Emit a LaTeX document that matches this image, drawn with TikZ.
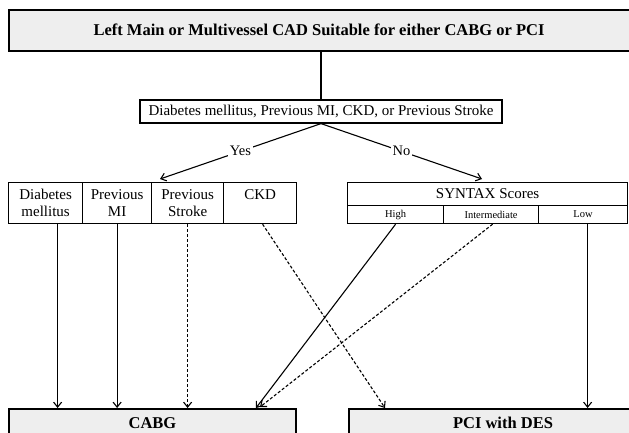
\documentclass[tikz,border=0pt]{standalone}
\usepackage{fontspec}
\setmainfont{Liberation Serif}
\usetikzlibrary{arrows.meta}
\begin{document}
\begin{tikzpicture}[x=1pt,y=-1pt,
  graybox/.style={draw, line width=2pt, fill=gray!13, inner sep=0pt, anchor=north west},
  cell/.style={draw, line width=1.2pt, inner sep=0pt, anchor=north west, align=center, font=\fontsize{15}{17}\selectfont},
  small/.style={cell, font=\fontsize{10.5}{12}\selectfont},
  qbox/.style={draw, line width=1.2pt, inner sep=0pt, font=\fontsize{15}{17}\selectfont},
  conn/.style={line width=1.1pt},
  arr/.style={conn, -{Straight Barb[length=5pt,width=8pt]}},
  dsh/.style={dash pattern=on 3pt off 2pt},
  lbl/.style={fill=white, inner sep=2pt, font=\fontsize{14.5}{16}\selectfont},
  bold/.style={font=\fontsize{16.5}{19}\selectfont\bfseries}
]
\clip (0,0) rectangle (629,433);
\fill[white] (0,0) rectangle (629,433);
% top
\node[graybox, minimum width=640pt, minimum height=41pt] (topbox) at (8,9) {};
\node[bold] (title) at (319,29.5) {Left Main or Multivessel CAD Suitable for either CABG or PCI};
% question
\node[qbox, minimum width=362pt, minimum height=23pt] (q) at (321,111.5) {Diabetes mellitus, Previous MI, CKD, or Previous Stroke};
% left cells
\node[cell, minimum width=74pt, minimum height=41pt] (dm) at (8,182) {Diabetes\\mellitus};
\node[cell, minimum width=69pt, minimum height=41pt] (mi) at (82,182) {Previous\\MI};
\node[cell, minimum width=72pt, minimum height=41pt] (st) at (151,182) {Previous\\Stroke};
\node[cell, minimum width=73pt, minimum height=41pt] (ckd) at (223,182) {CKD\\\mbox{}};
% syntax
\node[cell, minimum width=280pt, minimum height=23pt] (syn) at (347,182) {SYNTAX Scores};
\node[small, minimum width=96pt, minimum height=18pt] (hi) at (347,205) {High};
\node[small, minimum width=95pt, minimum height=18pt] (int) at (443,205) {Intermediate};
\node[small, minimum width=89pt, minimum height=18pt] (low) at (538,205) {Low};
% bottom
\node[graybox, bold, minimum width=287pt, minimum height=28pt] (cabg) at (8,408) {CABG};
\node[graybox, bold, minimum width=308pt, minimum height=28pt] (pci) at (348,408) {PCI with DES};
% coordinates
\coordinate (yesend) at (160,179);
\coordinate (noend) at (482,179);
\coordinate (cabgA) at (256,408);
\coordinate (cabgB) at (260,407);
\coordinate (pciA) at (385,408);
% connectors
\draw[conn] (q.north |- topbox.south) -- (q.north);
\draw[arr] (q.south) -- node[lbl]{Yes} (yesend);
\draw[arr] (q.south) -- node[lbl]{No} (noend);
\draw[arr] ([xshift=12pt]dm.south) -- ([xshift=12pt]dm.south |- cabg.north);
\draw[arr] (mi.south) -- (mi.south |- cabg.north);
\draw[arr, dsh] (st.south) -- (st.south |- cabg.north);
\draw[arr, dsh] ([xshift=2.5pt]ckd.south) -- (pciA);
\draw[arr] (hi.south) -- (cabgA);
\draw[arr, dsh] ([xshift=1.5pt]int.south) -- (cabgB);
\draw[arr] ([xshift=4.5pt]low.south) -- ([xshift=4.5pt]low.south |- pci.north);
\end{tikzpicture}
\end{document}
